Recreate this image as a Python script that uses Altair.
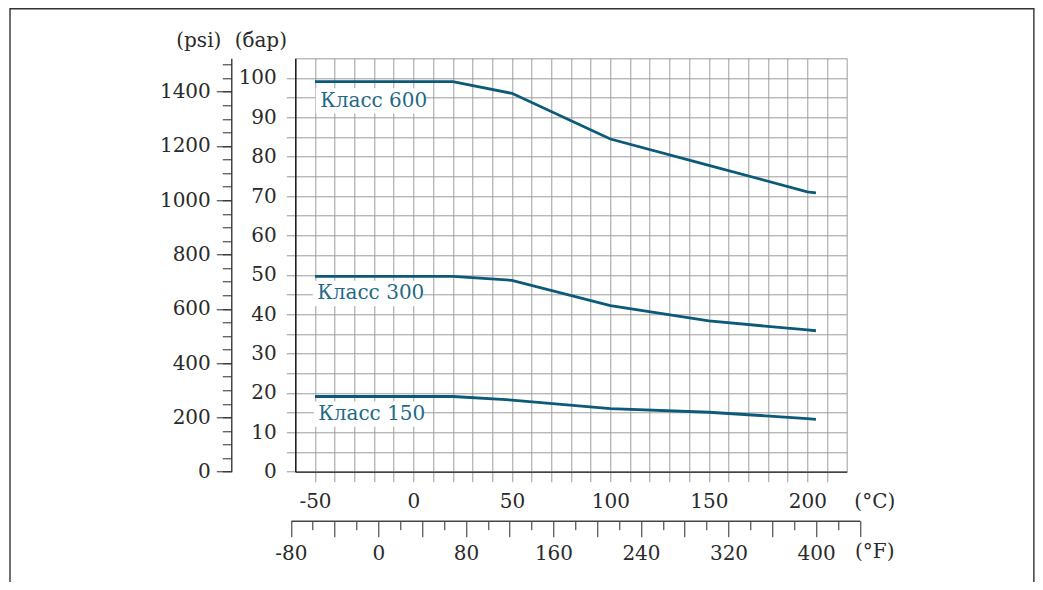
import altair as alt
import pandas as pd

# ---- data ----
temp_c = [-50, 20, 50, 100, 150, 200, 204.4]
class600 = [99.1, 99.1, 96.1, 84.5, 77.8, 71.1, 70.8]
class300 = [49.6, 49.6, 48.6, 42.2, 38.3, 36.0, 35.8]
class150 = [19.1, 19.1, 18.2, 16.0, 15.1, 13.5, 13.3]

label_text = ["Класс 600", "Класс 300", "Класс 150"]
label_x = [-47.3, -48.8, -48.3]
label_y = [94.2, 45.3, 14.6]

c_ticks = list(range(-50, 211, 10))
bar_ticks = list(range(0, 101, 5))
psi_minor = list(range(0, 1501, 50))
psi_major = list(range(0, 1401, 200))
f_minor = list(range(-60, 421, 40))
f_major = list(range(-80, 441, 40))

PSI_PER_BAR = 14.5038
C_DOMAIN = [-60, 220]
BAR_DOMAIN = [0, 105]

FONT = "DejaVu Serif"
LINE_COLOR = "#0b5a7a"
TEXT_COLOR = "#1f6a86"
INK = "#2a2a2a"

rows = []
for name, vals in [("600", class600), ("300", class300), ("150", class150)]:
    for t, v in zip(temp_c, vals):
        rows.append({"cls": name, "temp": t, "p": v})
df = pd.DataFrame(rows)
labels_df = pd.DataFrame({"txt": label_text, "lx": label_x, "ly": label_y})

xs = alt.Scale(domain=C_DOMAIN, nice=False, zero=False)
ys = alt.Scale(domain=BAR_DOMAIN, nice=False, zero=False)

c_axis = alt.Axis(
    values=c_ticks,
    labelExpr="datum.value % 50 == 0 ? '' + datum.value : ''",
    tickSize=10, tickColor="#999999", grid=True, gridColor="#9d9d9d",
    gridWidth=1, domainColor="#444444", domainWidth=1.6,
    labelPadding=10, labelFlush=False,
    title="(°C)", titleAngle=0, titleAlign="center", titleBaseline="middle",
    titleX=579, titleY=30,
)
bar_axis = alt.Axis(
    values=bar_ticks,
    labelExpr="datum.value % 10 == 0 ? '' + datum.value : ''",
    tickSize=9, tickColor="#999999", grid=True, gridColor="#9d9d9d",
    gridWidth=1, domainColor="#111111", domainWidth=1.4,
    labelPadding=10, labelFlush=False,
    title="(бар)", titleAngle=0, titleAlign="center", titleBaseline="middle",
    titleX=-35, titleY=-18,
)

lines = alt.Chart(df).mark_line(color=LINE_COLOR, strokeWidth=2.8).encode(
    x=alt.X("temp:Q", scale=xs, axis=c_axis),
    y=alt.Y("p:Q", scale=ys, axis=bar_axis),
    detail="cls:N",
)

boxes = alt.Chart(labels_df).transform_calculate(
    bx=alt.datum.lx - 2.3, bx2=alt.datum.lx + 53.5,
    by=alt.datum.ly + 3.2, by2=alt.datum.ly - 3.2,
).mark_rect(fill="white").encode(
    x=alt.X("bx:Q", scale=xs, axis=None),
    x2="bx2:Q",
    y=alt.Y("by:Q", scale=ys, axis=None),
    y2="by2:Q",
)

texts = alt.Chart(labels_df).mark_text(
    font=FONT, fontSize=20, color=TEXT_COLOR, align="left", baseline="middle"
).encode(
    x=alt.X("lx:Q", scale=xs, axis=None),
    y=alt.Y("ly:Q", scale=ys, axis=None),
    text="txt:N",
)

psi_scale = alt.Scale(domain=[0, BAR_DOMAIN[1] * PSI_PER_BAR], nice=False, zero=False)
psi_minor_layer = alt.Chart(pd.DataFrame({"v": psi_minor})).mark_point(opacity=0).encode(
    y=alt.Y("v:Q", scale=psi_scale, axis=alt.Axis(
        orient="left", offset=64, values=psi_minor, tickSize=9, labels=False,
        domain=False, grid=False, title=None, tickColor=INK)),
)
psi_major_layer = alt.Chart(pd.DataFrame({"v": psi_major})).mark_point(opacity=0).encode(
    y=alt.Y("v:Q", scale=psi_scale, axis=alt.Axis(
        orient="left", offset=64, values=psi_major, tickSize=15,
        labelExpr="'' + datum.value", labelPadding=6, labelFlush=False,
        domain=True, domainColor=INK, domainWidth=1.3, grid=False, tickColor=INK,
        title="(psi)", titleAngle=0, titleAlign="center", titleBaseline="middle",
        titleX=-33, titleY=-18)),
)

f_scale = alt.Scale(domain=[-80, 440], range=[-4.4, 564.5], nice=False, zero=False)
f_minor_layer = alt.Chart(pd.DataFrame({"v": f_minor})).mark_point(opacity=0).encode(
    x=alt.X("v:Q", scale=f_scale, axis=alt.Axis(
        orient="bottom", offset=49, values=f_minor, tickSize=9, labels=False,
        domain=False, grid=False, title=None, tickColor=INK)),
)
f_major_layer = alt.Chart(pd.DataFrame({"v": f_major})).mark_point(opacity=0).encode(
    x=alt.X("v:Q", scale=f_scale, axis=alt.Axis(
        orient="bottom", offset=49, values=f_major, tickSize=16,
        labelExpr="datum.value % 80 == 0 ? '' + datum.value : ''",
        labelPadding=7, labelFlush=False,
        domain=True, domainColor="#444444", domainWidth=1.4, grid=False, tickColor=INK,
        title="(°F)", titleAngle=0, titleAlign="center", titleBaseline="middle",
        titleX=579, titleY=31)),
)

frame = alt.Chart(pd.DataFrame({"k": [0]})).mark_rect(
    fillOpacity=0, stroke="#333333", strokeWidth=1.4
).encode(
    x=alt.value(-285.3), x2=alt.value(738.6), y=alt.value(-49.5), y2=alt.value(1000)
)

chart = alt.layer(
    boxes, lines, texts,
    psi_minor_layer, psi_major_layer, f_minor_layer, f_major_layer, frame,
).resolve_scale(x="independent", y="independent").properties(
    width=551.4, height=413.4,
    autosize=alt.AutoSizeParams(type="none"),
    padding={"left": 287.3, "top": 50.3, "right": 188, "bottom": 110},
).configure_axis(
    labelFont=FONT, labelFontSize=20, labelColor=INK,
    titleFont=FONT, titleFontSize=20, titleColor=INK, titleFontWeight="normal",
).configure_view(stroke="#9d9d9d", strokeWidth=1)

chart.save("out.html", embed_options={"renderer": "svg", "actions": False})
